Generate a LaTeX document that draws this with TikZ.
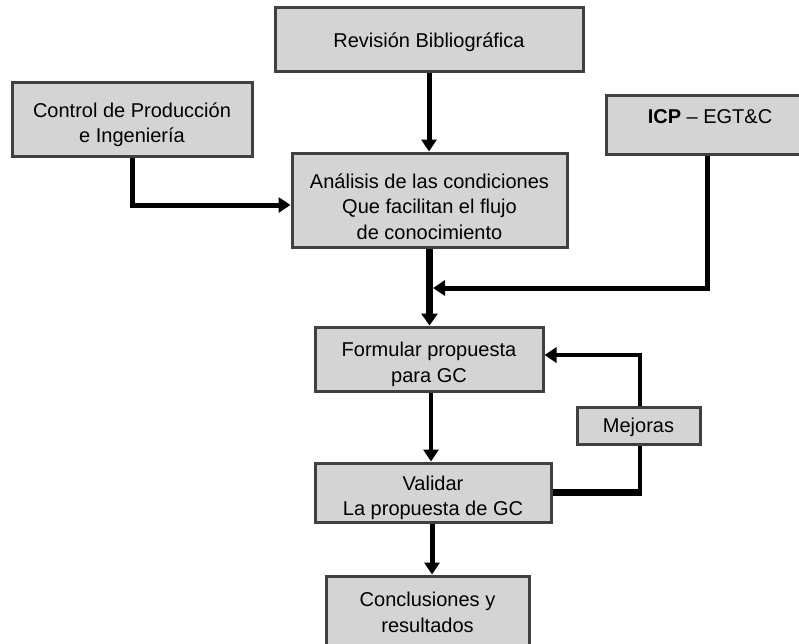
\documentclass[tikz,border=0pt]{standalone}
\usepackage{fontspec}
\setmainfont{Liberation Sans}
\usetikzlibrary{arrows.meta,calc}
\definecolor{boxfill}{RGB}{212,212,212}
\definecolor{boxline}{RGB}{64,64,64}
% invisible struts that push a box's text lower or higher
\newcommand{\toppad}[1]{\rule{0pt}{#1}}
\newcommand{\botpad}[1]{\rule[-#1]{0pt}{0pt}}
\tikzset{
  stepbox/.style={draw=boxline, fill=boxfill, line width=3pt, inner sep=0pt,
    align=center, font=\fontsize{20}{25.5}\selectfont},
  conn/.style={line width=5pt, draw=black},
  thinconn/.style={line width=4pt, draw=black},
  heavyconn/.style={line width=7.5pt, draw=black},
  tip/.style={-{Triangle[width=15pt,length=12pt]}},
}
\begin{document}
\begin{tikzpicture}[x=1pt,y=-1pt]
  \useasboundingbox (0,0) rectangle (799,643);
  \clip (0,0) rectangle (799,643);

  % process boxes
  \node[stepbox, minimum width=308pt, minimum height=64pt] (rev) at (429,39) {\toppad{21pt}Revisión Bibliográfica};
  \node[stepbox, minimum width=240pt, minimum height=74pt] (ctrl) at (132,119) {\toppad{26pt}Control de Producción\\e Ingeniería};
  \node[stepbox, minimum width=275pt, minimum height=94pt] (anal) at (429.5,200) {\toppad{28pt}Análisis de las condiciones\\Que facilitan el flujo\\de conocimiento};
  \node[stepbox, minimum width=208pt, minimum height=59pt] (icp) at (710,124.5) {\textbf{ICP} -- EGT\&C\botpad{16pt}};
  \node[stepbox, minimum width=228pt, minimum height=64pt] (form) at (429,359) {\toppad{25pt}Formular propuesta\\para GC};
  \node[stepbox, minimum width=123pt, minimum height=37pt] (mej) at (638.5,425.5) {\toppad{18.5pt}Mejoras};
  \node[stepbox, minimum width=236pt, minimum height=59pt] (val) at (433,492.5) {\toppad{25pt}Validar\\La propuesta de GC};
  \node[stepbox, minimum width=203pt, minimum height=73pt] (concl) at (427.5,612.5) {Conclusiones y\\resultados};

  % junction where the ICP line meets the main flow, and the feedback corner
  \coordinate (junc) at (433,288);
  \coordinate (fbcorner) at ([xshift=1.5pt]mej.south |- val.east);

  % connectors
  \draw[conn, tip] (rev.south) -- (rev.south |- anal.north);
  \draw[conn, tip] (ctrl.south) |- ([yshift=-5pt]anal.west);
  \draw[heavyconn, -{Triangle[width=16pt,length=12pt]}] (anal.south) -- (anal.south |- form.north);
  \draw[conn, tip] ([xshift=-3pt]icp.south) |- (junc);
  \draw[thinconn, tip] ([xshift=2pt]form.south) -- ([xshift=2pt]form.south |- val.north);
  \draw[thinconn] ([xshift=1.5pt]mej.south) -- ([yshift=3pt]fbcorner);
  \draw[heavyconn] (val.east) -- ([xshift=2pt]fbcorner);
  \draw[thinconn, tip] ([xshift=1.5pt]mej.north) |- ([yshift=4pt]form.east);
  \draw[conn, tip] ([xshift=-1pt]val.south) -- ([xshift=-1pt]val.south |- concl.north);
\end{tikzpicture}
\end{document}
